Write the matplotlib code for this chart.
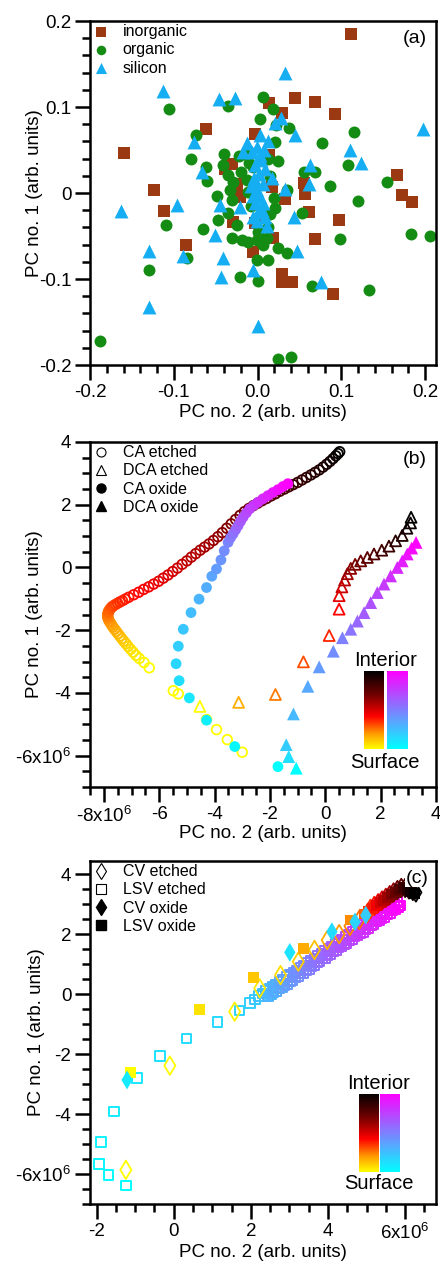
import numpy as np
import matplotlib
matplotlib.use("Agg")
import matplotlib.pyplot as plt
from matplotlib.colors import LinearSegmentedColormap
from matplotlib.lines import Line2D

plt.rcParams['font.family'] = ['Liberation Sans', 'DejaVu Sans']
plt.rcParams['mathtext.default'] = 'regular'

# ---------------- Panel (a) data ----------------
inorganic = [(0.111, 0.185), (-0.159, 0.047), (-0.124, 0.004), (-0.112, -0.021), (-0.086, -0.061),
             (-0.062, 0.074), (0.014, 0.105), (0.045, 0.110), (0.069, 0.106), (0.093, 0.092),
             (0.029, 0.093), (-0.003, 0.069), (0.014, 0.044), (-0.031, 0.034), (-0.039, 0.028),
             (-0.025, 0.011), (-0.021, -0.005), (-0.029, -0.034), (-0.003, -0.035), (0.017, 0.007),
             (0.033, -0.007), (0.055, 0.012), (0.057, -0.001), (0.061, -0.022), (0.069, -0.054),
             (0.097, -0.031), (0.090, -0.117), (0.019, -0.052), (-0.005, -0.069), (0.029, -0.094),
             (0.029, -0.103), (0.041, -0.104), (0.166, 0.021), (0.172, -0.002), (0.184, -0.010),
             (-0.025, 0.003)]
organic = [(-0.188, -0.172), (-0.106, 0.098), (-0.035, 0.101), (0.007, 0.112), (0.018, 0.098),
           (0.003, 0.086), (0.022, 0.079), (0.037, 0.076), (-0.074, 0.068), (-0.080, 0.040),
           (-0.040, 0.045), (-0.041, 0.032), (-0.061, 0.030), (-0.060, 0.014), (-0.035, 0.021),
           (-0.022, 0.043), (-0.049, -0.004), (-0.030, -0.008), (-0.047, -0.031), (-0.035, -0.023),
           (-0.109, -0.037), (-0.065, -0.042), (-0.025, -0.037), (-0.031, -0.052), (-0.019, -0.055),
           (-0.011, -0.057), (-0.001, -0.055), (0.011, -0.052), (0.007, -0.060), (0.025, -0.064),
           (0.035, -0.070), (-0.084, -0.075), (-0.129, -0.090), (-0.021, -0.098), (0.001, -0.102),
           (-0.001, -0.078), (0.013, -0.078), (0.025, -0.193), (0.040, -0.191), (0.065, -0.108),
           (0.133, -0.113), (0.099, -0.054), (0.120, -0.009), (0.087, 0.008), (0.108, 0.032),
           (0.115, 0.071), (0.077, 0.058), (0.155, 0.013), (0.183, -0.048), (0.206, -0.050),
           (0.069, 0.024), (0.055, 0.024), (0.053, -0.023), (0.021, -0.017), (0.020, -0.006),
           (0.024, 0.037), (0.021, 0.059), (-0.013, 0.015), (-0.011, 0.001), (-0.005, 0.030),
           (-0.029, 0.013), (-0.033, 0.003), (0.015, -0.024), (0.035, 0.003), (-0.015, 0.045),
           (-0.010, 0.035), (0.012, 0.040), (0.015, 0.020), (-0.008, -0.015), (0.013, -0.040),
           (-0.020, 0.025), (0.000, -0.045)]
silicon = [(-0.113, 0.119), (0.033, 0.139), (-0.046, 0.109), (-0.027, 0.111), (0.198, 0.075),
           (-0.076, 0.059), (-0.066, 0.024), (-0.163, -0.021), (-0.096, -0.014), (-0.045, -0.014),
           (-0.021, -0.016), (-0.051, -0.049), (-0.089, -0.073), (-0.129, -0.068), (-0.041, -0.075),
           (-0.044, -0.098), (-0.130, -0.132), (0.001, -0.155), (-0.005, -0.090), (0.076, -0.104),
           (0.047, -0.068), (0.043, -0.028), (0.011, -0.038), (0.033, 0.005), (0.062, 0.011),
           (0.063, 0.032), (0.110, 0.050), (0.123, 0.035), (0.045, 0.067), (0.028, 0.087),
           (0.021, 0.081), (0.003, 0.067), (0.013, 0.061), (-0.013, 0.058), (-0.017, 0.048),
           (-0.001, 0.054), (0.003, 0.044), (-0.003, 0.032), (0.009, 0.028), (0.017, 0.017),
           (-0.003, 0.013), (-0.001, 0.003), (0.003, -0.005), (-0.003, -0.012), (0.005, -0.020),
           (-0.005, -0.028), (0.009, -0.028), (-0.001, -0.032), (0.002, 0.022), (-0.008, 0.008),
           (0.004, 0.038), (-0.004, 0.018), (0.006, 0.010), (-0.006, -0.003), (0.007, -0.012),
           (0.000, -0.022), (-0.007, 0.048), (0.008, 0.050)]
groups_a = ["inorganic", "organic", "silicon"]

# ---------------- Panel (b) data (x, y in units of 1e6) ----------------
ca_etched = [(-6.36, -3.20), (-6.55, -3.03), (-6.72, -2.90), (-6.84, -2.80), (-6.94, -2.70),
             (-7.03, -2.61), (-7.12, -2.52), (-7.20, -2.43), (-7.28, -2.35), (-7.35, -2.27),
             (-7.42, -2.19), (-7.49, -2.11), (-7.55, -2.04), (-7.61, -1.97), (-7.67, -1.90),
             (-7.72, -1.83), (-7.77, -1.76), (-7.81, -1.70), (-7.84, -1.64), (-7.86, -1.58),
             (-7.86, -1.52), (-7.85, -1.46), (-7.83, -1.41), (-7.80, -1.36), (-7.76, -1.31),
             (-7.71, -1.26), (-7.65, -1.22), (-7.58, -1.18), (-7.50, -1.14), (-7.42, -1.10),
             (-7.33, -1.06), (-7.23, -1.01), (-7.10, -0.95), (-6.92, -0.87), (-6.74, -0.79),
             (-6.56, -0.70), (-6.38, -0.62), (-6.20, -0.53), (-6.02, -0.44), (-5.85, -0.34),
             (-5.68, -0.24), (-5.51, -0.13), (-5.34, -0.02), (-5.17, 0.10), (-5.00, 0.21),
             (-4.84, 0.33), (-4.68, 0.44), (-4.52, 0.55), (-4.36, 0.65), (-4.20, 0.75),
             (-4.04, 0.86), (-3.88, 0.98), (-3.72, 1.11), (-3.56, 1.25), (-3.40, 1.39),
             (-3.24, 1.53), (-3.08, 1.66), (-2.92, 1.78), (-2.76, 1.88), (-2.60, 1.97),
             (-2.44, 2.05), (-2.28, 2.13), (-2.12, 2.20), (-1.96, 2.28), (-1.80, 2.35),
             (-1.64, 2.43), (-1.48, 2.50), (-1.32, 2.57), (-1.16, 2.64), (-1.00, 2.71),
             (-0.84, 2.79), (-0.68, 2.87), (-0.52, 2.95), (-0.37, 3.03), (-0.22, 3.11),
             (-0.08, 3.20), (0.05, 3.29), (0.17, 3.38), (0.28, 3.47), (0.38, 3.56),
             (0.46, 3.63), (0.52, 3.69)]
ca_etched_surface = [(-5.49, -3.93), (-5.31, -4.03), (-4.29, -4.85), (-3.93, -5.17),
                     (-3.54, -5.49), (-3.00, -5.89)]
ca_oxide = [(-1.71, -6.35), (-3.27, -5.71), (-4.29, -4.87), (-4.91, -4.16), (-5.28, -3.61),
            (-5.39, -3.07), (-5.31, -2.51), (-5.13, -1.97), (-4.85, -1.44), (-4.56, -1.01),
            (-4.29, -0.64), (-4.10, -0.28), (-3.93, -0.05), (-3.77, 0.24), (-3.65, 0.53),
            (-3.51, 0.80), (-3.42, 0.95), (-3.33, 1.07), (-3.24, 1.20), (-3.15, 1.33),
            (-3.06, 1.47), (-2.97, 1.60), (-2.85, 1.74), (-2.73, 1.87), (-2.58, 1.98),
            (-2.43, 2.08), (-2.25, 2.19), (-2.07, 2.29), (-1.89, 2.39), (-1.71, 2.48),
            (-1.53, 2.58), (-1.35, 2.67)]
dca_etched = [(-4.53, -4.43), (-3.13, -4.30), (-1.80, -4.05), (-0.79, -3.01), (0.14, -2.17),
              (0.50, -1.33), (0.50, -0.90), (0.60, -0.62), (0.70, -0.40), (0.80, -0.20),
              (0.92, -0.03), (1.08, 0.10), (1.28, 0.21), (1.52, 0.32), (1.76, 0.43),
              (2.04, 0.55), (2.30, 0.68), (2.54, 0.85), (2.78, 1.02), (2.95, 1.25),
              (3.08, 1.42), (3.10, 1.60)]
dca_oxide = [(-1.05, -6.40), (-1.32, -6.03), (-1.41, -5.65), (-1.15, -4.67), (-0.63, -3.79),
             (-0.22, -3.17), (0.29, -2.67), (0.62, -2.24), (0.92, -1.97), (1.16, -1.71),
             (1.40, -1.44), (1.64, -1.12), (1.88, -0.80), (2.12, -0.53), (2.36, -0.27),
             (2.60, 0.00), (2.78, 0.21), (2.96, 0.43), (3.12, 0.62), (3.28, 0.80)]
legend_b = ["CA etched", "DCA etched", "CA oxide", "DCA oxide"]

# ---------------- Panel (c) data (x, y in units of 1e6) ----------------
lsv_etched = [(-1.23, -6.38), (-1.69, -6.04), (-1.93, -5.66), (-1.88, -4.94), (-1.54, -3.91),
              (-0.95, -2.80), (-0.36, -2.06), (0.33, -1.47), (1.14, -0.93), (1.71, -0.54),
              (1.97, -0.30), (2.10, -0.17), (2.21, -0.06), (2.32, 0.03), (2.40, 0.10),
              (2.48, 0.17), (2.57, 0.25), (2.66, 0.33), (2.75, 0.41), (2.84, 0.49),
              (2.93, 0.57), (3.02, 0.65), (3.11, 0.72), (3.20, 0.80), (3.29, 0.88),
              (3.38, 0.96), (3.47, 1.04), (3.56, 1.12), (3.65, 1.20), (3.74, 1.28),
              (3.83, 1.36), (3.92, 1.44), (4.01, 1.52), (4.10, 1.59), (4.19, 1.67),
              (4.28, 1.75), (4.37, 1.83), (4.46, 1.91), (4.55, 1.99), (4.64, 2.07),
              (4.73, 2.15), (4.82, 2.23), (4.91, 2.31), (5.00, 2.39), (5.09, 2.46),
              (5.18, 2.54), (5.27, 2.62), (5.36, 2.70), (5.45, 2.78), (5.54, 2.86),
              (5.63, 2.94), (5.72, 3.02), (5.80, 3.09)]
lsv_etched_run2 = [(2.45, -0.05), (2.59, 0.07), (2.73, 0.20), (2.87, 0.32), (3.01, 0.44),
                   (3.15, 0.57), (3.29, 0.69), (3.43, 0.82), (3.57, 0.94), (3.71, 1.06),
                   (3.85, 1.19), (3.99, 1.31), (4.13, 1.44), (4.27, 1.56), (4.41, 1.68),
                   (4.55, 1.81), (4.69, 1.93), (4.83, 2.05), (4.97, 2.18), (5.11, 2.30),
                   (5.25, 2.43), (5.39, 2.55), (5.53, 2.67), (5.67, 2.80), (5.81, 2.92)]
lsv_etched_run3 = [(2.52, 0.00), (2.66, 0.10), (2.80, 0.23), (2.94, 0.35), (3.08, 0.47),
                   (3.22, 0.60), (3.36, 0.72), (3.50, 0.85), (3.64, 0.97), (3.78, 1.09),
                   (3.92, 1.22), (4.06, 1.34), (4.20, 1.47), (4.34, 1.59), (4.48, 1.71),
                   (4.62, 1.84), (4.76, 1.96), (4.90, 2.08), (5.04, 2.21), (5.18, 2.33),
                   (5.32, 2.46), (5.46, 2.58), (5.60, 2.70), (5.74, 2.83), (5.86, 2.96)]
cv_etched = [(-1.24, -5.86), (-0.10, -2.38), (1.58, -0.58), (2.23, 0.20), (2.77, 0.64),
             (3.23, 1.09), (3.65, 1.48), (3.98, 1.81), (4.29, 2.01), (4.57, 2.28),
             (4.81, 2.48), (5.02, 2.70), (5.10, 2.85), (5.20, 2.95), (5.30, 3.04),
             (5.40, 3.13), (5.50, 3.22), (5.60, 3.31), (5.70, 3.40), (5.80, 3.48),
             (5.90, 3.55), (6.00, 3.55), (6.10, 3.50), (6.20, 3.45), (6.28, 3.40)]
lsv_oxide = [(-1.11, -2.60), (0.67, -0.52), (2.06, 0.56), (3.36, 1.53), (4.59, 2.48),
             (4.94, 2.68), (5.05, 2.78), (5.15, 2.87), (5.25, 2.96), (5.35, 3.05),
             (5.45, 3.14), (5.55, 3.23), (5.65, 3.32), (5.75, 3.41), (5.85, 3.50),
             (5.95, 3.58), (6.05, 3.50), (6.15, 3.44), (6.25, 3.38)]
cv_oxide = [(-1.21, -2.86), (3.01, 1.40), (4.10, 2.09), (4.70, 2.42), (4.98, 2.64)]
legend_c = ["CV etched", "LSV etched", "CV oxide", "LSV oxide"]

# ---------------- Styles ----------------
hot_r = LinearSegmentedColormap.from_list(
    "hotr", [(0, "#ffff00"), (0.2, "#ff9900"), (0.42, "#ff0000"), (0.7, "#700000"), (1, "#000000")])
cool = plt.get_cmap("cool")
FS = 13.5

def xy(pts):
    a = np.array(pts, dtype=float)
    return a[:, 0], a[:, 1]

def ramp(n, lo=0.0, hi=1.0, gamma=1.0):
    t = np.linspace(0, 1, n) ** gamma
    return lo + (hi - lo) * t

def style_axes(ax):
    for s in ax.spines.values():
        s.set_linewidth(1.8)
    ax.tick_params(which='major', direction='out', length=10.5, width=1.8, labelsize=FS,
                   top=False, right=False, pad=3)
    ax.tick_params(which='minor', direction='out', length=5.5, width=1.8, top=False, right=False)

fig = plt.figure(figsize=(4.4, 12.61), dpi=100)
W, H = 440.0, 1261.0
def add_ax(l, t, r, b):
    return fig.add_axes([l / W, 1 - b / H, (r - l) / W, (b - t) / H])

leg_kw = dict(loc='upper left', frameon=False, fontsize=11.5, handlelength=1.0,
              handletextpad=0.85, labelspacing=0.2, borderaxespad=0.1, borderpad=0.1)

# ================= (a) =================
ax = add_ax(90, 21, 436, 365)
style_axes(ax)
cols_a = {"inorganic": "#9b3a12", "organic": "#148c14", "silicon": "#16aef2"}
mk_a = {"inorganic": "s", "organic": "o", "silicon": "^"}
sz_a = {"inorganic": 72, "organic": 74, "silicon": 100}
for name, pts in zip(groups_a, [inorganic, organic, silicon]):
    x, y = xy(pts)
    ax.scatter(x, y, marker=mk_a[name], s=sz_a[name], c=cols_a[name], linewidths=0, label=name)
ax.set_xlim(-0.2, 0.213)
ax.set_ylim(-0.2, 0.2)
ax.set_xticks([-0.2, -0.1, 0.0, 0.1, 0.2])
ax.set_xticklabels(["-0.2", "-0.1", "0.0", "0.1", "0.2"])
ax.set_yticks([-0.2, -0.1, 0.0, 0.1, 0.2])
ax.set_yticklabels(["-0.2", "-0.1", "0", "0.1", "0.2"])
ax.set_xticks(np.arange(-0.2, 0.2101, 0.02), minor=True)
ax.set_yticks(np.arange(-0.2, 0.2001, 0.02), minor=True)
ax.set_xlabel("PC no. 2 (arb. units)", fontsize=FS)
ax.set_ylabel("PC no. 1 (arb. units)", fontsize=FS)
ax.xaxis.set_label_coords(0.5, -0.113)
ax.yaxis.set_label_coords(-0.136, 0.5)
ax.text(0.94, 0.95, "(a)", transform=ax.transAxes, fontsize=14, ha='center', va='center')
ax.legend(markerscale=0.8, **leg_kw)

def add_colorbars(ax, x1, x2, x3, x4, yb, yt, xc, yi, ys):
    grad = np.linspace(0, 1, 256)[:, None]
    for (a0, a1), cm in [((x1, x2), hot_r), ((x3, x4), cool)]:
        ia = ax.inset_axes([a0, yb, a1 - a0, yt - yb])
        ia.imshow(grad, aspect='auto', origin='lower', cmap=cm)
        ia.axis('off')
    ax.text(xc, yi, "Interior", transform=ax.transAxes, fontsize=14.5, ha='center', va='center')
    ax.text(xc, ys, "Surface", transform=ax.transAxes, fontsize=14.5, ha='center', va='center')

# ================= (b) =================
ax = add_ax(90, 442, 436, 787)
style_axes(ax)
x, y = xy(ca_etched)
ax.scatter(x, y, marker='o', s=48, facecolors='none', edgecolors=hot_r(ramp(len(x))), linewidths=1.3)
x, y = xy(ca_etched_surface)
ax.scatter(x, y, marker='o', s=48, facecolors='none', edgecolors=[hot_r(0.0)] * len(x), linewidths=1.3)
x, y = xy(dca_etched)
ax.scatter(x, y, marker='^', s=62, facecolors='none', edgecolors=hot_r(ramp(len(x), gamma=0.6)), linewidths=1.3)
x, y = xy(ca_oxide)
ax.scatter(x, y, marker='o', s=60, c=cool(ramp(len(x))), linewidths=0)
x, y = xy(dca_oxide)
ax.scatter(x, y, marker='^', s=85, c=cool(ramp(len(x), gamma=0.7)), linewidths=0)
ax.set_xlim(-8.5, 4.0)
ax.set_ylim(-7.0, 4.0)
ax.set_xticks([-8, -6, -4, -2, 0, 2, 4])
ax.set_xticklabels([r"-8x10$^{6}$", "-6", "-4", "-2", "0", "2", "4"])
ax.set_yticks([-6, -4, -2, 0, 2, 4])
ax.set_yticklabels([r"-6x10$^{6}$", "-4", "-2", "0", "2", "4"])
ax.set_xticks(np.arange(-8.5, 4.01, 0.5), minor=True)
ax.set_yticks(np.arange(-7, 4.01, 0.5), minor=True)
ax.set_xlabel("PC no. 2 (arb. units)", fontsize=FS)
ax.set_ylabel("PC no. 1 (arb. units)", fontsize=FS)
ax.xaxis.set_label_coords(0.5, -0.11)
ax.yaxis.set_label_coords(-0.136, 0.5)
ax.text(0.94, 0.95, "(b)", transform=ax.transAxes, fontsize=14, ha='center', va='center')
hb = [Line2D([], [], ls='none', marker='o', mfc='none', mec='k', ms=6.5, mew=0.8),
      Line2D([], [], ls='none', marker='^', mfc='none', mec='k', ms=7, mew=0.8),
      Line2D([], [], ls='none', marker='o', mfc='k', mec='k', ms=6.5),
      Line2D([], [], ls='none', marker='^', mfc='k', mec='k', ms=7)]
ax.legend(hb, legend_b, **leg_kw)
add_colorbars(ax, 0.792, 0.847, 0.858, 0.916, 0.110, 0.336, 0.853, 0.368, 0.072)

# ================= (c) =================
ax = add_ax(90, 861, 436, 1204)
style_axes(ax)
x, y = xy(lsv_etched)
ax.scatter(x, y, marker='s', s=48, facecolors='none', edgecolors=cool(ramp(len(x))), linewidths=1.4)
x, y = xy(lsv_etched_run2)
ax.scatter(x, y, marker='s', s=48, facecolors='none', edgecolors=cool(ramp(len(x), 0.3, 1.0)), linewidths=1.4)
x, y = xy(lsv_etched_run3)
ax.scatter(x, y, marker='s', s=48, facecolors='none', edgecolors=cool(ramp(len(x), 0.3, 1.0)), linewidths=1.4)
x, y = xy(cv_etched)
ax.scatter(x, y, marker='d', s=88, facecolors='none', edgecolors=hot_r(ramp(len(x), gamma=1.5)), linewidths=1.3)
x, y = xy(lsv_oxide)
ax.scatter(x, y, marker='s', s=62, c=hot_r(ramp(len(x))), linewidths=0)
x, y = xy(cv_oxide)
ax.scatter(x, y, marker='d', s=92, c=cool(ramp(len(x), 0.08, 0.2)), linewidths=0)
ax.set_xlim(-2.17, 6.8)
ax.set_ylim(-7.0, 4.45)
ax.set_xticks([-2, 0, 2, 4, 6])
ax.set_xticklabels(["-2", "0", "2", "4", r"6x10$^{6}$"])
ax.set_yticks([-6, -4, -2, 0, 2, 4])
ax.set_yticklabels([r"-6x10$^{6}$", "-4", "-2", "0", "2", "4"])
ax.set_xticks(np.arange(-2.0, 6.81, 0.5), minor=True)
ax.set_yticks(np.arange(-7, 4.41, 0.5), minor=True)
ax.set_xlabel("PC no. 2 (arb. units)", fontsize=FS)
ax.set_ylabel("PC no. 1 (arb. units)", fontsize=FS)
ax.xaxis.set_label_coords(0.5, -0.117)
ax.yaxis.set_label_coords(-0.13, 0.5)
ax.text(0.945, 0.95, "(c)", transform=ax.transAxes, fontsize=14, ha='center', va='center',
        bbox=dict(facecolor='white', edgecolor='none', pad=0.5))
hc = [Line2D([], [], ls='none', marker='d', mfc='none', mec='k', ms=8, mew=0.8),
      Line2D([], [], ls='none', marker='s', mfc='none', mec='k', ms=6.5, mew=0.8),
      Line2D([], [], ls='none', marker='d', mfc='k', mec='k', ms=8),
      Line2D([], [], ls='none', marker='s', mfc='k', mec='k', ms=6.5)]
ax.legend(hc, legend_c, **leg_kw)
add_colorbars(ax, 0.777, 0.832, 0.838, 0.893, 0.093, 0.321, 0.835, 0.35, 0.061)

fig.savefig("out.png", dpi=100)
